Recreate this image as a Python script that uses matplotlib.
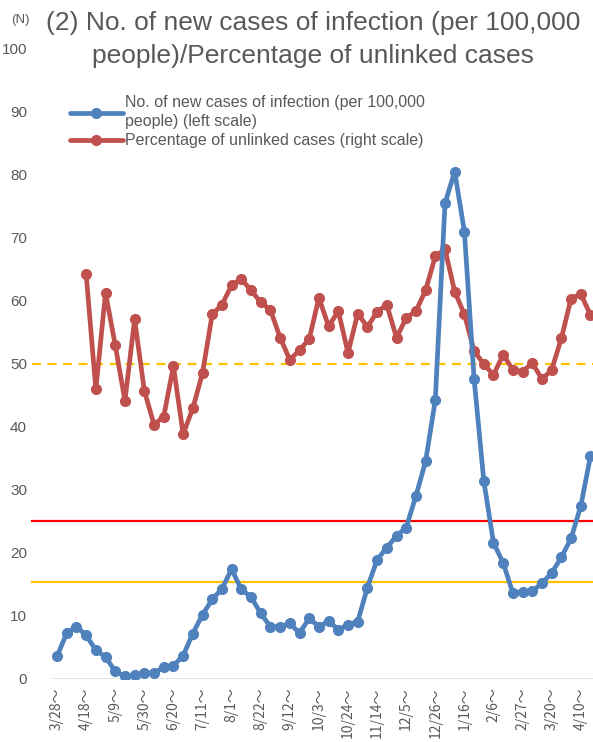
import matplotlib
matplotlib.use("Agg")
import matplotlib.pyplot as plt
import numpy as np

plt.rcParams['font.family'] = ['Liberation Sans', 'Noto Sans CJK JP', 'DejaVu Sans']

# Weekly tick labels (every 3rd week shown)
tick_labels = ["3/28〜", "4/18〜", "5/9〜", "5/30〜", "6/20〜", "7/11〜", "8/1〜",
               "8/22〜", "9/12〜", "10/3〜", "10/24〜", "11/14〜", "12/5〜", "12/26〜",
               "1/16〜", "2/6〜", "2/27〜", "3/20〜", "4/10〜"]

# New cases per 100,000 people (weekly, from 3/28)
new_cases = [3.6, 7.3, 8.3, 6.9, 4.6, 3.5, 1.2, 0.4, 0.6, 1.0,
             0.9, 1.9, 2.1, 3.7, 7.2, 10.2, 12.6, 14.3, 17.4, 14.2,
             13.0, 10.4, 8.3, 8.3, 8.8, 7.3, 9.6, 8.3, 9.2, 7.8,
             8.6, 9.1, 14.5, 18.9, 20.8, 22.7, 24.0, 29.0, 34.5, 44.2,
             75.4, 80.4, 70.9, 47.6, 31.4, 21.6, 18.4, 13.6, 13.8, 13.9,
             15.2, 16.8, 19.3, 22.3, 27.4, 35.3]

# Percentage of unlinked cases (starts at 4/18)
unlinked = [np.nan, np.nan, np.nan,
            64.2, 45.9, 61.2, 52.9, 44.1, 57.0, 45.7, 40.3, 41.6, 49.6,
            38.8, 42.9, 48.5, 57.8, 59.3, 62.4, 63.4, 61.6, 59.7, 58.5,
            54.1, 50.6, 52.1, 53.9, 60.4, 55.9, 58.3, 51.7, 57.9, 55.8,
            58.2, 59.3, 54.1, 57.2, 58.3, 61.6, 67.0, 68.1, 61.4, 57.8,
            52.0, 49.9, 48.2, 51.4, 49.0, 48.7, 50.1, 47.5, 49.0, 54.0,
            60.3, 61.0, 57.7]

red_level = 25.0
orange_level = 15.3
dashed_level = 50.0

x = np.arange(len(new_cases))

fig = plt.figure(figsize=(5.93, 7.42), dpi=100)
ax = fig.add_axes([52/593, 1 - 679/742, 1 - 52/593, (679 - 48)/742])

gray = '#595959'
blue = '#4F81BD'
red = '#C0504D'

ax.plot(x, new_cases, color=blue, lw=3.4, marker='o', ms=7, zorder=4,
        label="No. of new cases of infection (per 100,000\npeople) (left scale)",
        solid_capstyle='round', solid_joinstyle='round')
ax.plot(x, unlinked, color=red, lw=3.4, marker='o', ms=7, zorder=3,
        label="Percentage of unlinked cases (right scale)",
        solid_capstyle='round', solid_joinstyle='round')

xmin_ax = -20/541
ax.axhline(red_level, xmin=xmin_ax, xmax=1, color='#FF0000', lw=1.6, clip_on=False, zorder=2)
ax.axhline(orange_level, xmin=xmin_ax, xmax=1, color='#FFC000', lw=1.6, clip_on=False, zorder=2)
ax.axhline(dashed_level, xmin=xmin_ax, xmax=1, color='#FFC000', lw=1.6, ls=(0, (4, 3)),
           clip_on=False, zorder=2)
ax.axhline(0, color='#D9D9D9', lw=1.8, zorder=1)

ax.set_xlim(-0.52, 55.26)
ax.set_ylim(0, 100)
ax.set_yticks(np.arange(0, 101, 10))
ax.set_xticks(np.arange(0, len(new_cases), 3))
ax.set_xticklabels(tick_labels, rotation=90, family=['Noto Sans CJK JP', 'DejaVu Sans'],
                   fontsize=10, color=gray)
for lbl in ax.get_yticklabels():
    lbl.set_color(gray)
    lbl.set_fontsize(11)
ax.tick_params(axis='y', length=0, pad=18)
ax.tick_params(axis='x', length=0, pad=6)
for s in ax.spines.values():
    s.set_visible(False)

fig.text(313/593, 1 - 23/742, "(2) No. of new cases of infection (per 100,000",
         ha='center', va='center', fontsize=19, color=gray)
fig.text(313/593, 1 - 56/742, "people)/Percentage of unlinked cases",
         ha='center', va='center', fontsize=19, color=gray)
fig.text(20/593, 1 - 20/742, "(N)", ha='center', va='center', fontsize=9.5, color=gray)

leg = ax.legend(loc='upper left', bbox_to_anchor=(70/593, 1 - 95/742),
                bbox_transform=fig.transFigure, frameon=False, fontsize=11.5,
                handlelength=3.3, handletextpad=0.12, labelspacing=0.25,
                borderpad=0, borderaxespad=0)
for t in leg.get_texts():
    t.set_color(gray)
    t.set_linespacing(1.35)

fig.savefig("out.png", dpi=100)
